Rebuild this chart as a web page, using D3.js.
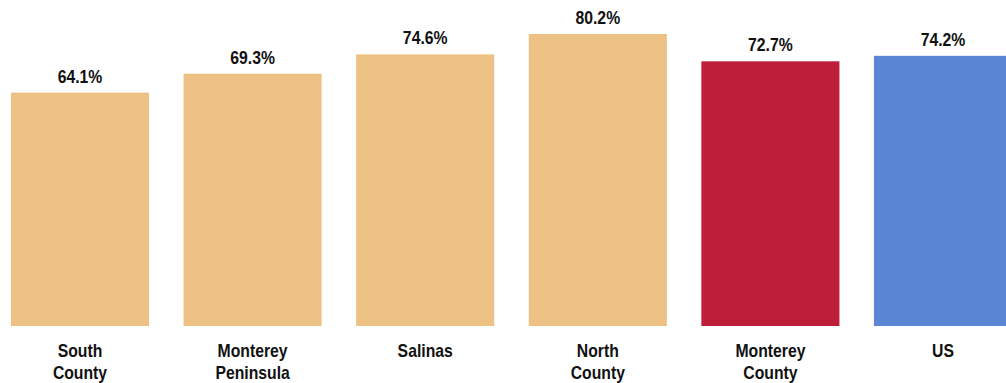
<!DOCTYPE html>
<html><head><meta charset="utf-8">
<script src="https://cdn.jsdelivr.net/npm/d3@7"></script>
<style>body{margin:0;background:#fff;overflow:hidden}</style>
</head><body>
<svg id="c" width="1006" height="383"></svg>
<script>
const categories = [["South","County"],["Monterey","Peninsula"],["Salinas"],["North","County"],["Monterey","County"],["US"]];
const values = [64.1, 69.3, 74.6, 80.2, 72.7, 74.2];
const colors = ["#EDC183","#EDC183","#EDC183","#EDC183","#BE1E3A","#5B86D6"];
const labels = values.map(v => v.toFixed(1) + "%");

const svg = d3.select("#c");
const font = "'Liberation Sans Narrow','Arial Narrow','Liberation Sans',Arial,sans-serif";
const fs = 19, sx = 0.83;
const x = d3.scaleBand().domain(d3.range(categories.length)).range([-6.3, 1029.3]).paddingInner(0.2).paddingOuter(0.1);
const y = d3.scaleLinear().domain([0, 80.2]).range([326, 34]);

svg.selectAll("rect").data(values).join("rect")
  .attr("x", (d,i) => x(i)).attr("width", x.bandwidth())
  .attr("y", d => y(d)).attr("height", d => y(0) - y(d))
  .attr("fill", (d,i) => colors[i]);

svg.selectAll("g.v").data(values).join("g").attr("class","v")
  .attr("transform", (d,i) => `translate(${x(i) + x.bandwidth()/2},${y(d) - 10}) scale(${sx},1)`)
  .append("text")
  .attr("text-anchor","middle").attr("font-family", font).attr("font-weight","bold")
  .attr("font-size", fs).attr("fill","#111").text((d,i) => labels[i]);

const g = svg.selectAll("g.c").data(categories).join("g").attr("class","c")
  .attr("transform", (d,i) => `translate(${x(i) + x.bandwidth()/2},356.5) scale(${sx},1)`)
  .append("text")
  .attr("text-anchor","middle").attr("font-family", font).attr("font-weight","bold")
  .attr("font-size", fs).attr("fill","#111");
g.selectAll("tspan").data(d => d).join("tspan")
  .attr("x", 0)
  .attr("dy", (d,j) => j === 0 ? 0 : 22.5).text(d => d);
</script>
</body></html>
